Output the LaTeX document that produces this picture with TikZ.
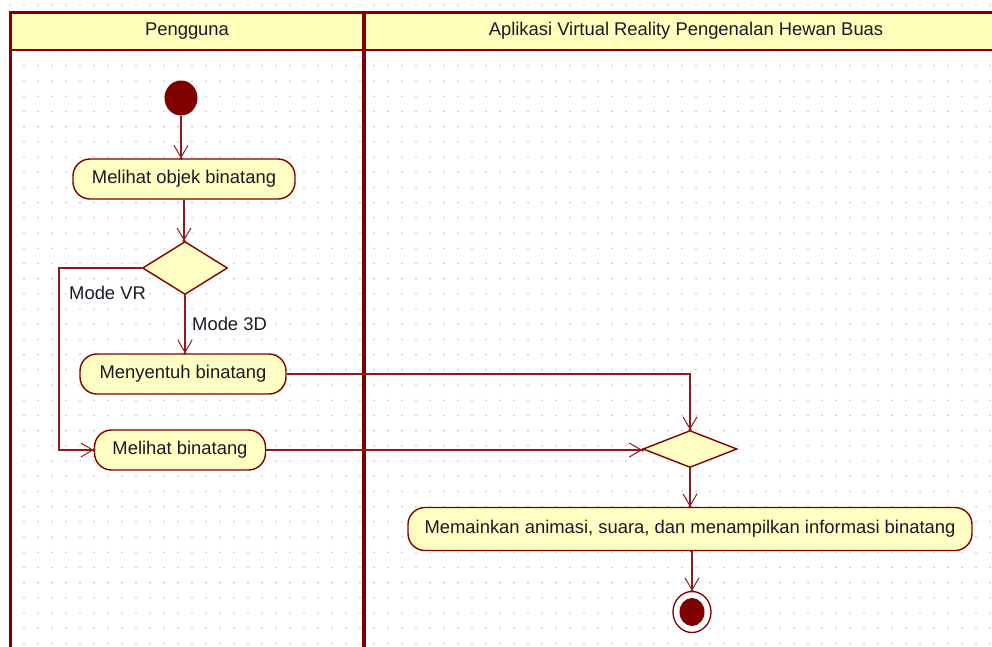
\documentclass[tikz,border=0pt]{standalone}
\usepackage{fontspec}
\setmainfont{Liberation Sans}
\usetikzlibrary{shapes.geometric,arrows.meta}
\definecolor{umlred}{HTML}{800000}
\definecolor{wire}{HTML}{8E1B1B}
\definecolor{actfill}{HTML}{FFFFC4}
\definecolor{headfill}{HTML}{FFFFBB}
\definecolor{griddot}{HTML}{C4C4C4}
\definecolor{ink}{HTML}{1A1A24}
\begin{document}
\begin{tikzpicture}[x=1pt,y=-1pt,
  font=\fontsize{18.4}{21}\selectfont,
  action/.style={draw=umlred, line width=1.4pt, fill=actfill, rounded corners=17pt,
    minimum height=40pt, inner sep=0pt, text=ink},
  choice/.style={diamond, draw=umlred, line width=1.4pt, fill=actfill, inner sep=0pt},
  flow/.style={draw=wire, line width=1.3pt,
    -{Straight Barb[length=12pt,width=14pt,line width=1pt]}},
  tipdot/.style={fill=wire},
  guard/.style={anchor=west, inner sep=0pt, text=ink},
  lanehead/.style={text=ink, inner sep=0pt}]
\useasboundingbox (0,0) rectangle (992,646);
\clip (0,0) rectangle (992,646);

% dotted background grid
\foreach \i in {0,...,70}
  \foreach \j in {0,...,42}
    \fill[griddot] (10+14*\i, 5+15.2*\j) circle (0.9pt);

% swimlanes
\fill[headfill] (10,12) rectangle (1010,50);
\draw[umlred, line width=3pt] (10,660) -- (10,12) -- (1010,12);
\draw[umlred, line width=2.5pt] (10,50) -- (1010,50);
\draw[umlred, line width=4pt] (364,12) -- (364,660);
\node[lanehead] (laneuser) at (187,31) {Pengguna};
\node[lanehead] (laneapp) at (686,31) {Aplikasi Virtual Reality Pengenalan Hewan Buas};

% activity nodes
\node[ellipse, fill=umlred, minimum width=33pt, minimum height=35pt, inner sep=0pt] (start) at (181,98) {};
\node[action, minimum width=222pt] (look) at (184,179) {Melihat objek binatang};
\node[choice, minimum width=85pt, minimum height=53pt] (mode) at (185,268) {};
\node[action, minimum width=206pt] (touch) at (183,374) {Menyentuh binatang};
\node[action, minimum width=171pt] (see) at (180,450) {Melihat binatang};
\node[choice, minimum width=94pt, minimum height=37pt] (merge) at (690,449) {};
\node[action, minimum width=564pt, minimum height=43pt] (play) at (690,529) {Memainkan animasi, suara, dan menampilkan informasi binatang};
\node[ellipse, draw=umlred, line width=1.3pt, fill=white, minimum width=38pt, minimum height=41pt, inner sep=0pt] (finish) at (692,612) {};
\node[ellipse, fill=umlred, minimum width=25pt, minimum height=28pt, inner sep=0pt] (finishcore) at (finish) {};

% guards
\node[guard] (guardvr) at (69,293) {Mode VR};
\node[guard] (guard3d) at (192,324) {Mode 3D};

% control flows
\coordinate (vrbend) at (59,0);
\draw[flow] (start.south) -- (start.south |- look.north);
\draw[flow] (look.south) -- (look.south |- mode.north);
\draw[flow] (mode.south) -- (mode.south |- touch.north);
\draw[flow] (mode.west) -| (vrbend |- see.west) -- (see.west);
\draw[flow] (touch.east) -| (merge.north);
\draw[flow] (see.east) -- (see.east -| merge.west);
\draw[flow] (merge.south) -- (play.north);
\draw[flow] (play.south) -- (play.south -| finish.north) -- (finish.north);

% small dots where each flow meets its target
\foreach \p in {start.south |- look.north, look.south |- mode.north,
    mode.south |- touch.north, see.west, merge.north, see.east -| merge.west,
    play.north, finish.north}
  \fill[tipdot] (\p) circle (1.8pt);
\end{tikzpicture}
\end{document}
